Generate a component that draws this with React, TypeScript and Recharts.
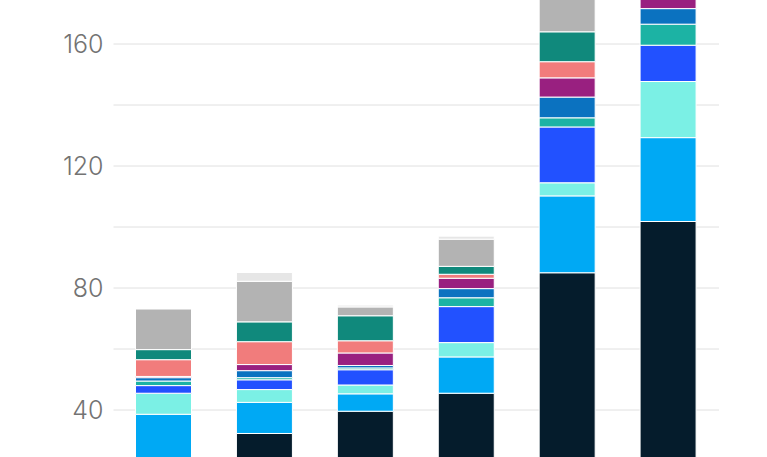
import { BarChart, Bar, XAxis, YAxis, CartesianGrid } from "recharts";

// categories are not labelled in the picture
const categories = ["1", "2", "3", "4", "5", "6"];

// series, bottom to top of each stack
const navy = [20.0, 32.3, 39.6, 45.5, 85.0, 101.8];
const sky = [18.6, 10.2, 5.7, 11.9, 25.2, 27.5];
const aqua = [6.9, 4.2, 2.9, 4.7, 4.3, 18.4];
const royal = [2.5, 3.2, 5.0, 11.8, 18.3, 11.9];
const lightTeal = [1.5, 0.7, 0.6, 2.9, 3.0, 6.9];
const midBlue = [1.1, 2.3, 0.8, 3.0, 6.8, 5.1];
const purple = [0.4, 2.0, 4.1, 3.4, 6.3, 6.4];
const salmon = [5.5, 7.5, 4.0, 1.3, 5.3, 3.0];
const darkTeal = [3.3, 6.5, 8.2, 2.6, 9.8, 8.0];
const gray = [13.3, 13.3, 2.9, 8.9, 14.0, 12.0];
const lightGray = [0, 2.9, 0.6, 1.0, 1.5, 1.0];

const yTicks = [0, 20, 40, 60, 80, 100, 120, 140, 160, 180];
const yLabels = [40, 80, 120, 160];

const series = [
  { key: "navy", values: navy, color: "#051c2c" },
  { key: "sky", values: sky, color: "#00a9f4" },
  { key: "aqua", values: aqua, color: "#7bf0e5" },
  { key: "royal", values: royal, color: "#2251ff" },
  { key: "lightTeal", values: lightTeal, color: "#1cb3a4" },
  { key: "midBlue", values: midBlue, color: "#0b72c0" },
  { key: "purple", values: purple, color: "#992080" },
  { key: "salmon", values: salmon, color: "#f17c7c" },
  { key: "darkTeal", values: darkTeal, color: "#10897c" },
  { key: "gray", values: gray, color: "#b3b3b3" },
  { key: "lightGray", values: lightGray, color: "#e6e6e6" },
];

const data = categories.map((name, i) => {
  const row: Record<string, string | number> = { name };
  series.forEach((s) => {
    row[s.key] = s.values[i];
  });
  return row;
});

export default function App() {
  return (
    <div
      style={{
        position: "absolute",
        top: 0,
        left: 0,
        width: 767,
        height: 457,
        overflow: "hidden",
        background: "#fff",
      }}
    >
      <div style={{ position: "absolute", top: -30, left: 0 }}>
        <BarChart
          width={767}
          height={562}
          data={data}
          margin={{ top: 13, right: 48, bottom: 0, left: 0 }}
          barSize={56}
        >
          <CartesianGrid vertical={false} stroke="#e0e0e0" />
          <XAxis dataKey="name" hide />
          <YAxis
            width={113.5}
            domain={[0, 180]}
            allowDataOverflow
            ticks={yTicks}
            interval={0}
            axisLine={false}
            tickLine={false}
            tickSize={0}
            tickMargin={10}
            tickFormatter={(v: number) => (yLabels.includes(v) ? String(v) : "")}
            tick={{ fill: "#737373", fontSize: 25, fontFamily: "Inter", fontWeight: 300 }}
          />
          {series.map((s) => (
            <Bar
              key={s.key}
              dataKey={s.key}
              stackId="a"
              fill={s.color}
              stroke="#fff"
              strokeWidth={1}
              isAnimationActive={false}
            />
          ))}
        </BarChart>
      </div>
    </div>
  );
}
